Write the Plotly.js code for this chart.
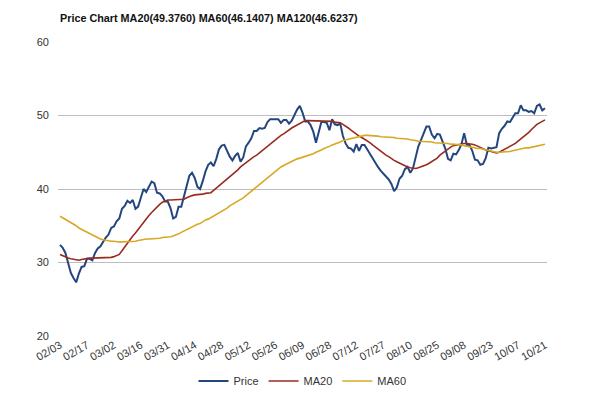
<!DOCTYPE html>
<html>
<head>
<meta charset="utf-8">
<script src="https://cdn.plot.ly/plotly-3.0.1.min.js"></script>
<style>
html,body{margin:0;padding:0;background:#fff;}
#chart{width:600px;height:397px;}
</style>
</head>
<body>
<div id="chart"></div>
<script>
var tickLabels = ["02/03","02/17","03/02","03/16","03/31","04/14","04/28","05/12","05/26","06/09","06/28","07/12","07/27","08/10","08/25","09/08","09/23","10/07","10/21"];
var tickIndex = [0,10,20,30,40,50,60,70,80,90,100,110,120,130,140,150,160,170,180];

var price = [
32.4,32.0,31.3,30.1,28.6,27.9,27.3,28.5,29.4,29.5,
30.5,30.5,30.3,31.3,31.9,32.2,32.9,33.4,33.8,34.7,
34.9,35.6,36.0,37.3,37.7,38.4,38.1,38.5,37.3,37.6,
38.8,40.0,39.6,40.4,41.0,40.8,39.5,39.4,39.0,38.3,
38.3,37.4,36.0,36.2,37.6,37.6,38.9,40.5,41.8,42.2,
41.5,40.3,40.0,41.1,42.4,43.3,43.6,43.1,44.1,45.4,
45.9,46.0,45.1,44.4,43.9,44.5,44.9,43.7,44.3,45.8,
46.3,46.9,47.9,47.9,48.3,48.2,48.3,49.1,49.5,49.5,
49.5,49.5,49.0,49.4,49.4,48.9,49.3,50.1,50.8,51.3,
50.4,49.2,49.2,48.7,47.8,46.3,47.8,49.1,49.1,49.0,
48.0,49.5,48.8,48.7,48.9,47.2,46.2,45.6,45.5,45.1,
46.1,45.2,46.0,46.0,45.4,44.8,44.2,43.5,43.0,42.5,
42.1,41.7,41.3,40.7,39.7,40.2,41.4,41.8,42.7,43.0,
42.2,42.8,44.3,45.8,46.7,47.5,48.5,48.5,47.4,46.9,
47.5,47.4,46.4,45.5,44.1,43.9,44.8,44.7,45.3,46.1,
47.6,46.0,46.0,45.2,44.0,43.9,43.3,43.4,44.2,45.6,
45.5,45.6,45.7,47.6,48.2,48.6,49.2,49.1,49.7,50.3,
50.3,51.4,50.7,50.7,50.5,50.6,50.3,51.3,51.5,50.7,
51.0
];

var ma20 = [
31.1,30.9,30.8,30.6,30.5,30.4,30.3,30.3,30.4,30.5,
30.6,30.6,30.6,30.6,30.6,30.6,30.6,30.6,30.6,30.7,
30.8,30.9,31.1,31.6,32.1,32.7,33.2,33.6,34.0,34.5,
34.9,35.4,35.9,36.4,36.8,37.2,37.6,37.9,38.2,38.4,
38.5,38.5,38.5,38.5,38.5,38.5,38.6,38.8,39.0,39.1,
39.2,39.2,39.3,39.3,39.4,39.4,39.5,39.8,40.1,40.4,
40.7,41.0,41.4,41.7,42.0,42.3,42.6,43.0,43.3,43.6,
43.9,44.2,44.4,44.6,44.9,45.2,45.5,45.8,46.2,46.5,
46.8,47.0,47.3,47.5,47.8,48.0,48.3,48.5,48.7,49.0,
49.2,49.3,49.3,49.3,49.3,49.3,49.2,49.2,49.2,49.2,
49.2,49.2,49.1,49.1,49.0,48.8,48.6,48.3,48.0,47.7,
47.5,47.2,47.0,46.8,46.6,46.3,46.0,45.7,45.4,45.2,
44.9,44.6,44.4,44.1,43.9,43.7,43.5,43.3,43.1,43.0,
42.9,42.8,42.8,42.9,43.0,43.2,43.3,43.5,43.7,43.9,
44.2,44.6,44.9,45.2,45.4,45.7,45.9,46.0,46.1,46.1,
46.2,46.2,46.2,46.1,46.0,45.8,45.6,45.5,45.3,45.2,
45.1,45.0,44.9,45.0,45.2,45.3,45.5,45.7,46.0,46.2,
46.5,46.8,47.0,47.4,47.7,48.1,48.5,48.8,49.0,49.2,
49.4
];

var ma60 = [
36.3,36.1,35.9,35.7,35.4,35.2,35.0,34.7,34.5,34.3,
34.1,33.9,33.7,33.5,33.3,33.2,33.1,33.0,33.0,32.9,
32.9,32.8,32.8,32.8,32.8,32.8,32.8,32.8,32.9,33.0,
33.1,33.1,33.2,33.2,33.2,33.3,33.3,33.3,33.4,33.4,
33.5,33.5,33.6,33.7,33.9,34.1,34.3,34.5,34.7,34.9,
35.0,35.2,35.3,35.6,35.8,35.9,36.1,36.3,36.5,36.7,
37.0,37.2,37.4,37.7,37.9,38.2,38.4,38.6,38.8,39.1,
39.4,39.7,40.0,40.3,40.6,40.9,41.2,41.6,41.9,42.2,
42.5,42.7,43.0,43.2,43.4,43.6,43.8,44.0,44.1,44.2,
44.3,44.4,44.6,44.7,44.8,45.0,45.1,45.3,45.5,45.6,
45.8,46.0,46.1,46.3,46.4,46.6,46.7,46.8,46.9,47.0,
47.1,47.2,47.2,47.3,47.3,47.3,47.2,47.2,47.2,47.1,
47.1,47.1,47.0,47.0,47.0,46.9,46.9,46.9,46.8,46.8,
46.7,46.7,46.6,46.5,46.5,46.5,46.4,46.4,46.4,46.3,
46.3,46.3,46.3,46.2,46.2,46.1,46.1,46.1,46.0,46.0,
45.9,45.8,45.7,45.7,45.6,45.5,45.5,45.4,45.3,45.2,
45.2,45.1,45.0,45.0,45.0,45.0,45.1,45.1,45.2,45.3,
45.3,45.4,45.5,45.6,45.6,45.7,45.8,45.9,46.0,46.1,
46.1
];

var idx = price.map(function(_, i){ return i; });

var traces = [
  {x: idx, y: price, name: "Price", type: "scatter", mode: "lines",
   line: {color: "#24467f", width: 2}},
  {x: idx, y: ma20, name: "MA20", type: "scatter", mode: "lines",
   line: {color: "#982b1f", width: 1.6}},
  {x: idx, y: ma60, name: "MA60", type: "scatter", mode: "lines",
   line: {color: "#d8a723", width: 1.6}}
];

var layout = {
  width: 600, height: 397,
  paper_bgcolor: "#ffffff", plot_bgcolor: "#ffffff",
  margin: {l: 58, r: 53, t: 42, b: 61, autoexpand: false},
  font: {family: "Liberation Sans, Arial, sans-serif", size: 11, color: "#333"},
  title: {text: "<b>Price Chart MA20(49.3760) MA60(46.1407) MA120(46.6237)</b>",
          font: {family: "Liberation Sans, Arial, sans-serif", size: 10.8, color: "#111"},
          x: 60/600, xanchor: "left", xref: "container",
          y: 1 - 18/397, yanchor: "middle", yref: "container"},
  showlegend: true,
  legend: {orientation: "h", x: 0.5, xanchor: "center",
           y: (397-381)/397, yanchor: "middle", yref: "container",
           font: {size: 11, color: "#333"}, itemwidth: 30, tracegroupgap: 0},
  xaxis: {
    range: [-0.75, 180.75], automargin: false,
    tickmode: "array", tickvals: tickIndex, ticktext: tickLabels,
    tickangle: -30, showgrid: false, zeroline: false, showline: false,
    ticks: "", tickfont: {size: 11, color: "#333"}
  },
  yaxis: {
    range: [20, 60], dtick: 10, tick0: 20, automargin: false,
    showgrid: true, gridcolor: "#bdbdbd", gridwidth: 1,
    zeroline: false, showline: false, ticks: "",
    ticklabelstandoff: 8,
    tickfont: {size: 11, color: "#333"}
  }
};

Plotly.newPlot("chart", traces, layout, {displayModeBar: false, staticPlot: true});
</script>
</body>
</html>
